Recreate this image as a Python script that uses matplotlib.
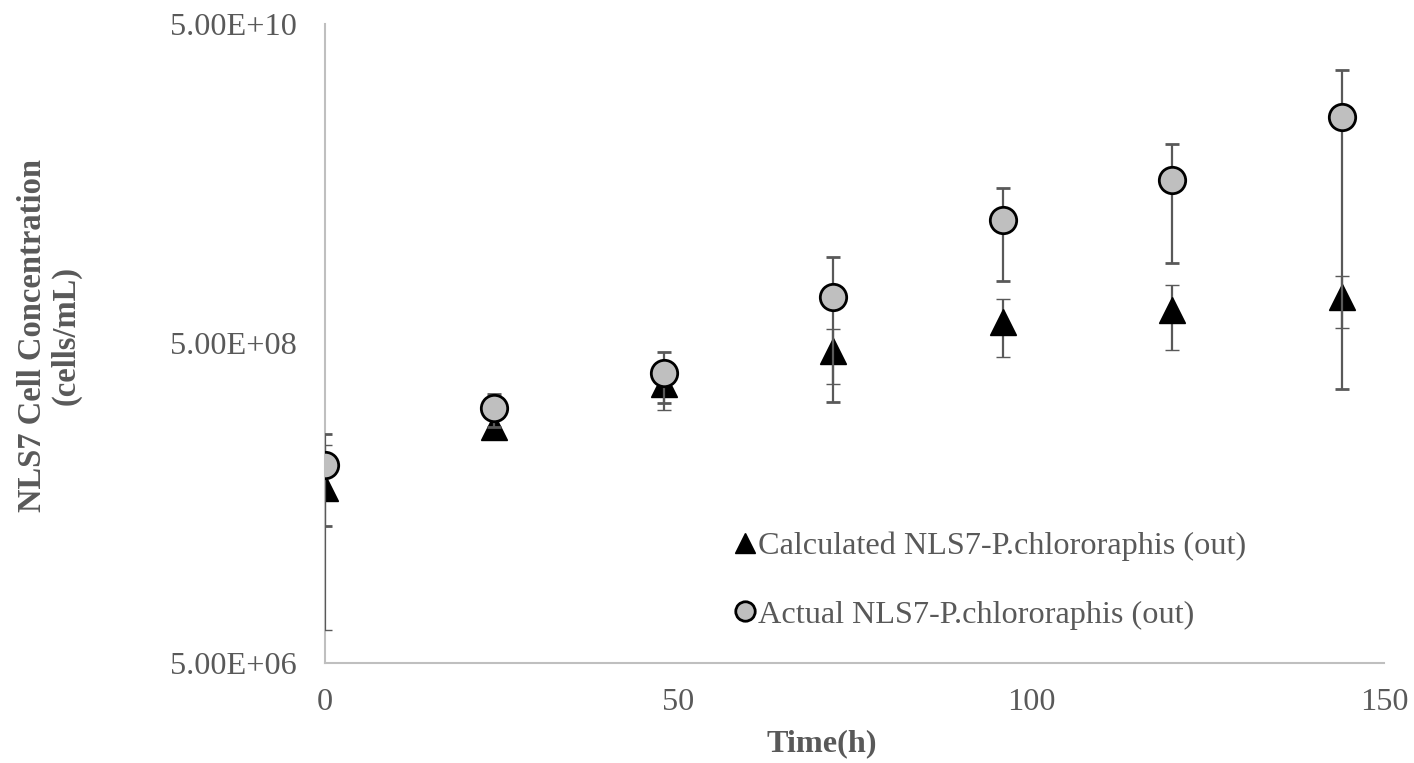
import numpy as np
import matplotlib
matplotlib.use("Agg")
import matplotlib.pyplot as plt
from matplotlib.lines import Line2D
from matplotlib.ticker import FixedLocator, FuncFormatter, NullLocator

plt.rcParams["font.family"] = ["Liberation Serif", "DejaVu Serif"]

# Time points (h)
time_h = [0, 24, 48, 72, 96, 120, 144]

# Calculated NLS7-P.chlororaphis (out), cells/mL, with error
calc_vals = [6.2e7, 1.49e8, 2.8e8, 4.46e8, 6.8e8, 8.05e8, 9.7e8]
calc_err = [5.4e7, 2.0e7, 9.0e7, 1.66e8, 2.7e8, 3.5e8, 3.46e8]

# Actual NLS7-P.chlororaphis (out), cells/mL, with error
act_vals = [8.6e7, 1.96e8, 3.26e8, 9.75e8, 2.95e9, 5.26e9, 1.31e10]
act_err = [5.0e7, 4.6e7, 1.15e8, 7.6e8, 1.72e9, 3.66e9, 1.284e10]

labels = ["Calculated NLS7-P.chlororaphis (out)",
          "Actual NLS7-P.chlororaphis (out)"]
y_ticks = [5e6, 5e8, 5e10]
x_ticks = [0, 50, 100, 150]

text_col = "#595959"
axis_col = "#BFBFBF"
fs = 23.2

fig = plt.figure(figsize=(14.14, 7.63), dpi=100)
ax = fig.add_axes([0.2298, 0.1314, 0.7490, 0.8371])

ax.errorbar(time_h, calc_vals, yerr=calc_err, fmt="^", color="black",
            markersize=19, markeredgecolor="black", markeredgewidth=1.0,
            ecolor=text_col, elinewidth=1.6, capsize=5, capthick=1.6,
            zorder=3)
ax.errorbar(time_h, act_vals, yerr=act_err, fmt="o", color="#BFBFBF",
            markersize=19, markeredgecolor="black", markeredgewidth=2.0,
            ecolor=text_col, elinewidth=1.6, capsize=5, capthick=1.6,
            zorder=4)

ax.set_yscale("log")
ax.set_ylim(5e6, 5e10)
ax.set_xlim(0, 150)
ax.yaxis.set_major_locator(FixedLocator(y_ticks))
ax.yaxis.set_minor_locator(NullLocator())
ax.yaxis.set_major_formatter(FuncFormatter(
    lambda v, p: "{:.2E}".format(v)))
ax.xaxis.set_major_locator(FixedLocator(x_ticks))

ax.tick_params(axis="both", length=0, labelsize=fs, colors=text_col)
ax.tick_params(axis="y", pad=20)
ax.tick_params(axis="x", pad=18)

for s in ["top", "right"]:
    ax.spines[s].set_visible(False)
for s in ["left", "bottom"]:
    ax.spines[s].set_color(axis_col)
    ax.spines[s].set_linewidth(1.5)

ax.set_xlabel("Time(h)", fontsize=fs, fontweight="bold", color=text_col)
ax.xaxis.set_label_coords(0.469, -0.104)
ax.set_ylabel("NLS7 Cell Concentration\n(cells/mL)", fontsize=23.5,
              fontweight="bold", color=text_col, linespacing=1.1)
ax.yaxis.set_label_coords(-0.230, 0.513)

# legend handles without error bars
handles = [
    Line2D([], [], linestyle="none", marker="^", markersize=15,
           color="black", markeredgecolor="black"),
    Line2D([], [], linestyle="none", marker="o", markersize=14,
           color="#BFBFBF", markeredgecolor="black", markeredgewidth=2.0),
]
leg = fig.legend(handles, labels, loc="center left",
                 bbox_to_anchor=(0.497, 0.239), frameon=False,
                 fontsize=fs, handletextpad=0.0, labelspacing=1.2,
                 handlelength=0.8, borderpad=0.4)
for t in leg.get_texts():
    t.set_color(text_col)

fig.savefig("out.png", dpi=100)
